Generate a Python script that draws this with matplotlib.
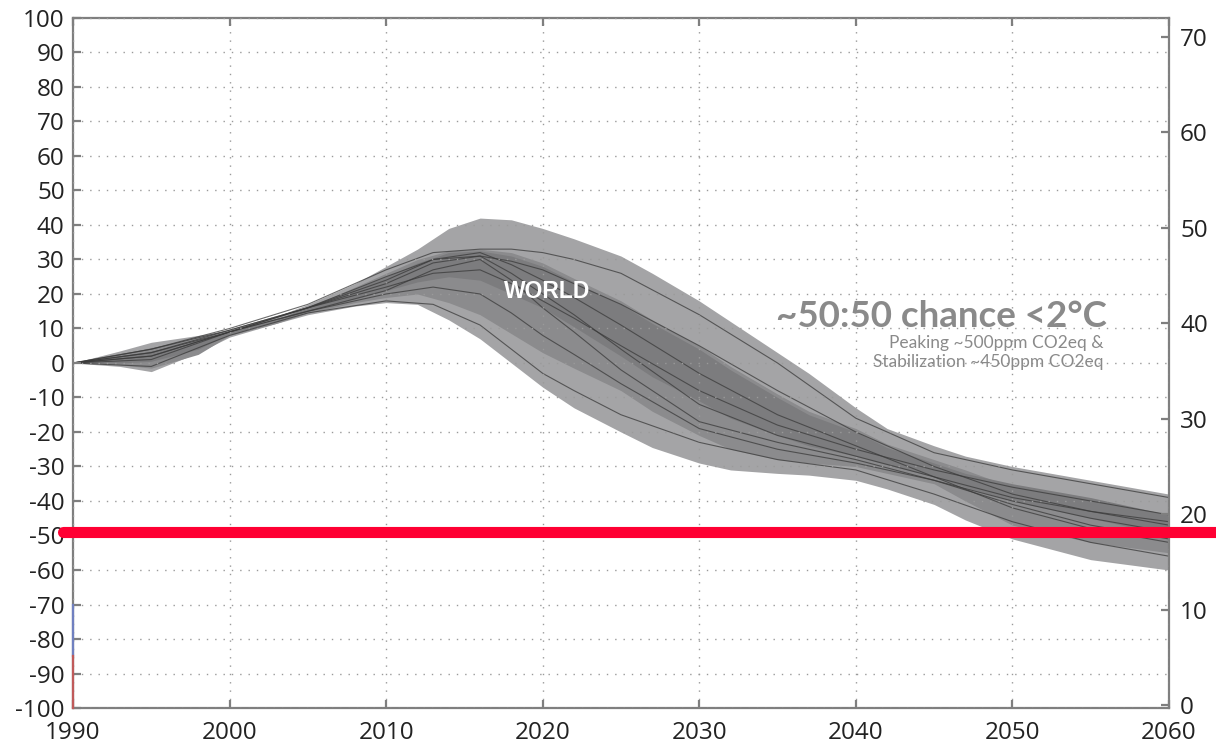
import matplotlib
matplotlib.use("Agg")
import matplotlib.pyplot as plt
import matplotlib.transforms as mtransforms

plt.rcParams['axes.unicode_minus'] = False
plt.rcParams['font.family'] = ['Open Sans', 'DejaVu Sans']

# ---------------- data ----------------
band_years = [1990, 1993, 1995, 1998, 2000, 2003, 2005, 2008, 2010, 2012,
              2014, 2016, 2018, 2020, 2022, 2025, 2027, 2030, 2032, 2035,
              2037, 2040, 2042, 2045, 2047, 2050, 2055, 2060]
outer_upper = [0, 3.5, 6, 8, 9.5, 13.5, 17, 23, 28, 33,
               39, 42, 41.5, 39, 36, 31, 26, 18, 12, 3,
               -3, -13, -19, -24, -27, -30, -34, -38]
outer_lower = [0, -1, -2.5, 3, 7.5, 11.5, 14, 16.5, 17.5, 17,
               12.5, 7, 0, -7, -13, -20, -24.5, -29, -31, -32,
               -32.5, -34, -36.5, -41, -45.5, -51, -57, -60]
mid_upper = [0, 2.5, 4.5, 7, 9, 12.5, 16, 22, 26, 30,
             32.5, 33, 32, 29, 24.5, 18, 12.5, 5, -1, -9,
             -14, -19, -23.5, -28, -31, -36, -40, -44]
mid_lower = [0, -0.5, -1.5, 2.5, 8, 11.5, 14.5, 17.5, 19, 20,
             17.5, 14, 8.5, 3, -1.5, -8, -14, -21, -25, -28,
             -29, -30, -32, -35, -40, -47, -52, -55]
core_upper = [0, 2, 3.5, 6, 9, 12.5, 16.5, 21.5, 25, 29,
              32, 32.5, 31, 28, 23.5, 17, 11.5, 4, -2, -10,
              -15, -20, -24.5, -29, -32, -35, -39, -44]
core_lower = [0, 0, 0.5, 4, 8.5, 12, 15, 18.5, 21, 23.5,
              25, 24, 20, 16, 10.5, 2, -4, -11, -16, -21,
              -24, -27, -29.5, -33, -36, -40, -45, -50]

line_years = [1990, 1995, 2000, 2005, 2010, 2013, 2016, 2018, 2020, 2022,
              2025, 2030, 2035, 2040, 2045, 2050, 2055, 2060]
pathways = [
    [0, 4, 9.5, 16, 25, 30, 31, 29.5, 27, 23, 17, 5, -8, -20, -30, -38, -43, -47],
    [0, 1, 9, 16, 23, 29, 31, 26, 20, 14, 4, -12, -21, -27, -33, -39, -43, -46],
    [0, 2, 9, 15, 21, 27, 30, 24, 16, 9, -2, -17, -23, -28, -34, -41, -47, -51],
    [0, 4, 10, 17, 27, 32, 33, 33, 32, 30, 26, 14, 0, -16, -26, -31, -35, -39],
    [0, -1, 8, 14.5, 18, 17, 11, 4, -3, -8, -15, -23, -28, -31, -38, -46, -52, -56],
    [0, 3, 9, 16, 24, 30, 32, 28.5, 24, 19, 11, -3, -15, -24, -33, -42, -48, -52],
    [0, 3, 9.5, 16, 22, 26, 27, 23, 18, 13, 5, -8, -18, -25, -31, -36, -40, -44],
    [0, 2, 9, 15, 20, 22, 20, 14.5, 8, 2.5, -6, -19, -25, -29, -34, -40, -45, -49],
]

target_level = -49          # red horizontal reference line (% vs 1990)
spine_blue = [-70, -85]     # coloured segments on left spine
spine_red = [-85, -100]

x_ticks = [1990, 2000, 2010, 2020, 2030, 2040, 2050, 2060]
left_ticks = list(range(-100, 101, 10))
right_ticks = list(range(0, 71, 10))

# ---------------- figure ----------------
fig = plt.figure(figsize=(12.16, 7.43), dpi=100)
ax = fig.add_axes([0.0600, 0.0471, 0.9013, 0.9287])

ax.fill_between(band_years, outer_lower, outer_upper, color='#a4a4a6', lw=0, zorder=1)
ax.fill_between(band_years, mid_lower, mid_upper, color='#8b8b8d', lw=0, zorder=1.1)
ax.fill_between(band_years, core_lower, core_upper, color='#7c7c7e', lw=0, zorder=1.2)
for p in pathways:
    ax.plot(line_years, p, color='#3a3a3a', lw=0.8, alpha=0.75, zorder=2)

ax.set_xlim(1990, 2060)
ax.set_ylim(-100, 100)
ax.set_xticks(x_ticks)
ax.set_yticks(left_ticks)
ax.set_yticklabels([str(v) for v in left_ticks])

ax.grid(True, linestyle=(0, (1, 5)), color='#9a9a9a', lw=1.0)
ax.set_axisbelow(False)

for s in ax.spines.values():
    s.set_color('#7f7f7f')
    s.set_linewidth(1.6)
ax.tick_params(axis='both', direction='in', length=6, width=1.6, color='#7f7f7f',
               labelsize=17.5, labelcolor='#222222')
ax.tick_params(axis='x', top=True, pad=9)
ax.tick_params(axis='y', left=True, right=False, pad=6)

# right axis
ax2 = ax.twinx()
ax2.set_ylim(-0.31, 71.99)
ax2.set_yticks(right_ticks)
ax2.set_yticklabels([str(v) for v in right_ticks])
for s in ax2.spines.values():
    s.set_visible(False)
ax2.tick_params(axis='y', direction='in', length=6, width=1.6, color='#7f7f7f',
                labelsize=17.5, labelcolor='#222222', pad=8)

# left spine coloured segments
ax.plot([1990, 1990], spine_blue, color='#7080c0', lw=1.6, clip_on=False, zorder=5)
ax.plot([1990, 1990], spine_red, color='#c05a5a', lw=1.6, clip_on=False, zorder=5)

# red reference line, extending beyond the axes
trans = mtransforms.blended_transform_factory(ax.transAxes, ax.transData)
ax.plot([-0.009, 1.06], [target_level, target_level], color='#ff0033', lw=8,
        solid_capstyle='round', transform=trans, clip_on=False, zorder=6)

# texts
ax.text(2020.3, 20.6, 'WORLD', color='white', fontsize=16.5, fontweight='bold',
        family=['Liberation Sans', 'DejaVu Sans'], ha='center', va='center', zorder=7)
ax.text(2045.45, 13.5, '~50:50 chance <2°C', color='#8a8a8a', fontsize=26.5,
        fontweight='bold', family=['Lato', 'DejaVu Sans'],
        ha='center', va='center', zorder=7)
ax.text(2055.8, 3.0, 'Peaking ~500ppm CO2eq &\nStabilization ~450ppm CO2eq',
        color='#8a8a8a', fontsize=12.5, family=['Lato', 'DejaVu Sans'],
        ha='right', va='center', ma='right', linespacing=1.2, zorder=7)

fig.savefig('out.png', dpi=100)
